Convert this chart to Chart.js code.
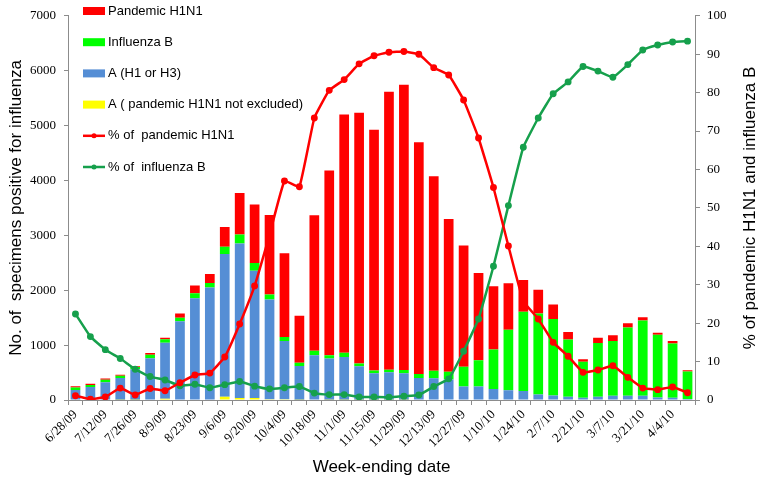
<!DOCTYPE html>
<html>
<head>
<meta charset="utf-8">
<script src="https://cdn.jsdelivr.net/npm/chart.js@4.4.1/dist/chart.umd.min.js"></script>
<style>
  html, body { margin: 0; padding: 0; background: #fff; }
  #wrap { width: 761px; height: 478px; }
</style>
</head>
<body>
<div id="wrap"><canvas id="myChart" width="761" height="478"></canvas></div>
<script>
// Hetek (week-ending dates)
const weeks = ['6/28/09','7/5/09','7/12/09','7/19/09','7/26/09','8/2/09','8/9/09','8/16/09','8/23/09','8/30/09',
  '9/6/09','9/13/09','9/20/09','9/27/09','10/4/09','10/11/09','10/18/09','10/25/09','11/1/09','11/8/09',
  '11/15/09','11/22/09','11/29/09','12/6/09','12/13/09','12/20/09','12/27/09','1/3/10','1/10/10','1/17/10',
  '1/24/10','1/31/10','2/7/10','2/14/10','2/21/10','2/28/10','3/7/10','3/14/10','3/21/10','3/28/10',
  '4/4/10','4/11/10'];

// Számok (stacked bars)
const notExcluded = [0,0,0,5,5,10,25,10,10,10,60,35,35,15,15,5,10,5,5,5,5,5,5,0,0,0,0,0,0,0,0,0,0,0,0,0,0,0,0,0,0,0];
const aH1H3 = [180,235,325,395,555,750,1020,1425,1845,2040,2600,2815,2320,1815,1060,615,805,750,780,608,
  484,502,484,402,395,372,248,248,200,177,165,101,83,58,41,58,76,76,76,47,41,18];
const influenzaB = [50,40,45,40,40,65,60,65,90,80,130,165,140,90,75,60,83,59,77,53,
  48,42,59,71,136,142,360,478,720,1105,1442,1476,1393,1046,656,982,1000,1247,1371,1140,987,502];
const pandemic = [20,20,20,20,15,30,30,75,140,165,360,755,1065,1450,1525,856,2469,3367,4341,4566,
  4389,5068,5198,4223,3544,2782,2209,1590,1152,844,578,431,266,136,47,94,106,77,59,36,48,24];

// Százalékok (right axis)
const pctPandemic = [1.1,0.2,0.8,3.1,1.3,3.0,2.4,4.5,6.5,7.0,11.2,19.8,29.7,43.0,57.0,55.5,73.4,80.6,83.4,87.5,
  89.6,90.5,90.7,90.0,86.5,84.6,78.1,68.2,55.3,40.1,25.7,21.1,15.0,11.4,7.2,7.8,8.9,5.9,3.1,2.7,3.4,1.9];
const pctInfluenzaB = [22.4,16.5,13.1,10.8,8.0,6.1,5.2,3.7,4.1,3.2,4.0,4.8,3.6,2.9,3.2,3.5,1.8,1.4,1.4,0.8,
  0.8,0.7,1.0,1.3,3.5,5.5,12.7,21.1,34.8,50.6,65.8,73.4,79.7,82.8,86.8,85.6,84.0,87.3,91.1,92.4,93.2,93.4];

const leftTicks = [0,1000,2000,3000,4000,5000,6000,7000];
const rightTicks = [0,10,20,30,40,50,60,70,80,90,100];

const RED = '#FF0000', GREEN = '#00FF00', BLUE = '#558ED5', YELLOW = '#FFFF00', LGREEN = '#16A04C';
const sans = '"Liberation Sans", Arial, sans-serif';
const serif = '"Liberation Serif", "Times New Roman", serif';
const axisGray = '#8C8C8C';

const legendItems = [
  { text: 'Pandemic H1N1', type: 'box', color: RED },
  { text: 'Influenza B', type: 'box', color: GREEN },
  { text: 'A (H1 or H3)', type: 'box', color: BLUE },
  { text: 'A ( pandemic H1N1 not excluded)', type: 'box', color: YELLOW },
  { text: '% of  pandemic H1N1', type: 'line', color: RED },
  { text: '% of  influenza B', type: 'line', color: LGREEN }
];

// legenda + jobb oldali cím
const extras = {
  id: 'extras',
  afterDraw(chart) {
    const ctx = chart.ctx;
    const area = chart.chartArea;
    ctx.save();
    ctx.font = '13px ' + sans;
    ctx.textBaseline = 'middle';
    legendItems.forEach((it, i) => {
      const y = 11 + i * 31.2;
      const x0 = area.left + 15;
      if (it.type === 'box') {
        ctx.fillStyle = it.color;
        ctx.fillRect(x0, y - 4, 22, 8);
      } else {
        ctx.strokeStyle = it.color;
        ctx.lineWidth = 2.5;
        ctx.beginPath(); ctx.moveTo(x0, y); ctx.lineTo(x0 + 22, y); ctx.stroke();
        ctx.fillStyle = it.color;
        ctx.beginPath(); ctx.arc(x0 + 11, y, 2.5, 0, Math.PI * 2); ctx.fill();
      }
      ctx.fillStyle = '#000';
      ctx.fillText(it.text, x0 + 25, y);
    });
    ctx.translate(750, (area.top + area.bottom) / 2);
    ctx.rotate(-Math.PI / 2);
    ctx.textAlign = 'center';
    ctx.font = '17px ' + sans;
    ctx.fillText('% of pandemic H1N1 and influenza B', 0, 0);
    ctx.restore();
  }
};

const barOpts = { barPercentage: 0.65, categoryPercentage: 1, yAxisID: 'y', order: 2, borderWidth: 0 };
const lineOpts = { type: 'line', yAxisID: 'y1', order: 1, borderWidth: 2.5, pointRadius: 2.2,
  pointHoverRadius: 2.2, tension: 0.1, fill: false };

const ctx = document.getElementById('myChart').getContext('2d');
const chart = new Chart(ctx, {
  type: 'bar',
  data: {
    labels: weeks,
    datasets: [
      Object.assign({ label: 'A ( pandemic H1N1 not excluded)', data: notExcluded, backgroundColor: YELLOW }, barOpts),
      Object.assign({ label: 'A (H1 or H3)', data: aH1H3, backgroundColor: BLUE }, barOpts),
      Object.assign({ label: 'Influenza B', data: influenzaB, backgroundColor: GREEN }, barOpts),
      Object.assign({ label: 'Pandemic H1N1', data: pandemic, backgroundColor: RED }, barOpts),
      Object.assign({ label: '% of pandemic H1N1', data: pctPandemic, borderColor: RED, backgroundColor: RED }, lineOpts),
      Object.assign({ label: '% of influenza B', data: pctInfluenzaB, borderColor: LGREEN, backgroundColor: LGREEN }, lineOpts)
    ]
  },
  options: {
    responsive: false,
    animation: false,
    devicePixelRatio: 1,
    layout: { padding: { top: 5, left: 0, right: 0, bottom: 0 } },
    plugins: { legend: { display: false }, tooltip: { enabled: false } },
    scales: {
      x: {
        stacked: true,
        grid: { display: true, drawOnChartArea: false, drawTicks: true, tickLength: 5, color: axisGray, offset: true },
        border: { display: true, color: axisGray },
        ticks: {
          autoSkip: false, minRotation: 45, maxRotation: 45, padding: 2,
          font: { family: serif, size: 13 }, color: '#000',
          callback: (v, i) => (i % 2 === 0 ? weeks[i] : '')
        },
        title: { display: true, text: 'Week-ending date', font: { family: sans, size: 17 }, color: '#000', padding: { top: 0, bottom: 0 } },
        afterFit: (s) => { s.height = 78; }
      },
      y: {
        stacked: true, position: 'left', min: 0, max: 7000,
        afterBuildTicks: (s) => { s.ticks = leftTicks.map(v => ({ value: v })); },
        grid: { display: true, drawOnChartArea: false, drawTicks: true, tickLength: 4, color: axisGray },
        border: { display: true, color: axisGray },
        ticks: { font: { family: serif, size: 13 }, color: '#000', padding: 8, callback: (v) => String(v) },
        title: { display: true, text: 'No. of  specimens positive for influenza', font: { family: sans, size: 17 }, color: '#000', padding: { top: 6 } },
        afterFit: (s) => { s.width = 68; }
      },
      y1: {
        stacked: false, position: 'right', min: 0, max: 100,
        afterBuildTicks: (s) => { s.ticks = rightTicks.map(v => ({ value: v })); },
        grid: { display: true, drawOnChartArea: false, drawTicks: true, tickLength: 5, color: axisGray },
        border: { display: true, color: axisGray },
        ticks: { font: { family: serif, size: 13 }, color: '#000', padding: 7, callback: (v) => String(v) },
        afterFit: (s) => { s.width = 66; }
      }
    }
  },
  plugins: [extras]
});
</script>
</body>
</html>
